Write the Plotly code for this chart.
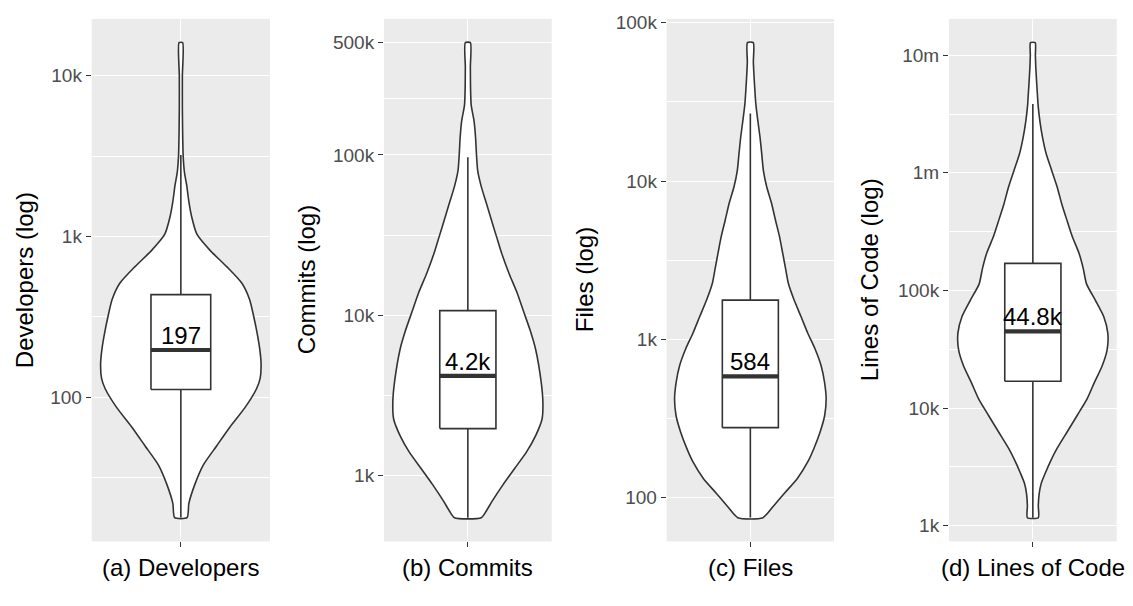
import numpy as np
import plotly.graph_objects as go

# ---------------- data ----------------
panel_titles = ["(a) Developers", "(b) Commits", "(c) Files", "(d) Lines of Code"]
y_titles = ["Developers (log)", "Commits (log)", "Files (log)", "Lines of Code (log)"]

# violin outlines: log10(value) from top to bottom, and half-width (fraction of panel half-width)
dev_log = [4.205, 4.0, 3.8, 3.65, 3.5, 3.4, 3.32, 3.217, 3.116, 3.014, 2.912, 2.811, 2.709, 2.607,
           2.506, 2.404, 2.3, 2.209, 2.12, 2.055, 1.936, 1.816, 1.698, 1.579, 1.459, 1.341, 1.252]
dev_width = [0.02, 0.017, 0.017, 0.02, 0.026, 0.04, 0.065, 0.09, 0.124, 0.18, 0.33, 0.517, 0.685, 0.772,
             0.816, 0.854, 0.885, 0.9, 0.89, 0.85, 0.719, 0.551, 0.401, 0.251, 0.157, 0.09, 0.07]

com_log = [5.70, 5.55, 5.42, 5.31, 5.211, 5.109, 5.0, 4.904, 4.801, 4.699, 4.596, 4.494, 4.392, 4.263,
           4.144, 4.024, 3.904, 3.789, 3.582, 3.457, 3.354, 3.252, 3.149, 3.047, 2.945, 2.842, 2.781, 2.739]
com_width = [0.03, 0.03, 0.032, 0.04, 0.074, 0.092, 0.103, 0.117, 0.161, 0.221, 0.28, 0.34, 0.40, 0.49,
             0.585, 0.665, 0.745, 0.808, 0.875, 0.895, 0.885, 0.81, 0.70, 0.56, 0.42, 0.29, 0.22, 0.16]

fil_log = [4.874, 4.75, 4.624, 4.483, 4.379, 4.275, 4.171, 4.066, 3.962, 3.858, 3.754, 3.65, 3.546, 3.45,
           3.354, 3.25, 3.146, 3.042, 2.938, 2.834, 2.729, 2.625, 2.521, 2.417, 2.313, 2.229, 2.12, 2.03,
           1.95, 1.874]
fil_width = [0.035, 0.036, 0.048, 0.066, 0.09, 0.116, 0.136, 0.156, 0.196, 0.254, 0.30, 0.348, 0.386, 0.42,
             0.454, 0.522, 0.604, 0.684, 0.775, 0.846, 0.887, 0.906, 0.889, 0.835, 0.761, 0.689, 0.56, 0.41,
             0.28, 0.15]

loc_log = [7.107, 7.0, 6.9, 6.772, 6.66, 6.58, 6.44, 6.30, 6.16, 6.02, 5.88, 5.74, 5.60, 5.46, 5.32, 5.19,
           5.056, 4.916, 4.777, 4.637, 4.497, 4.358, 4.218, 4.078, 3.939, 3.799, 3.659, 3.547, 3.45, 3.36,
           3.27, 3.17, 3.068]
loc_width = [0.028, 0.03, 0.035, 0.045, 0.055, 0.062, 0.084, 0.116, 0.16, 0.225, 0.29, 0.343, 0.405, 0.469,
             0.549, 0.60, 0.64, 0.746, 0.846, 0.894, 0.886, 0.826, 0.734, 0.647, 0.53, 0.41, 0.29, 0.21,
             0.15, 0.10, 0.075, 0.065, 0.065]

violin_logs = [dev_log, com_log, fil_log, loc_log]
violin_widths = [dev_width, com_width, fil_width, loc_width]

# box statistics
q1 = [112, 1970, 277, 16900]
median = [197, 4200, 584, 44800]
q3 = [435, 10700, 1770, 170000]
whisker_low = [17.9, 548, 75, 1170]
whisker_high = [3214, 96800, 26700, 3850000]
median_labels = ["197", "4.2k", "584", "44.8k"]

tick_vals = [[100, 1000, 10000],
             [1000, 10000, 100000, 500000],
             [100, 1000, 10000, 100000],
             [1000, 10000, 100000, 1000000, 10000000]]
tick_text = [["100", "1k", "10k"],
             ["1k", "10k", "100k", "500k"],
             ["100", "1k", "10k", "100k"],
             ["1k", "10k", "100k", "1m", "10m"]]

# ---------------- style / layout ----------------
W, H = 1133, 606
FONT = "Liberation Sans, Arial, Helvetica, sans-serif"
LINE = "#333333"
panel_px = [(91.7, 270.0), (384.0, 551.7), (666.7, 834.0), (949.0, 1116.7)]
ytitle_px = [24, 306, 584, 869]
top_px, bot_px = 12.0, 540.7
xtitle_top_px = 551
box_half = 0.335
LW = 1.6

fig = go.Figure()
layout = dict(width=W, height=H, margin=dict(l=0, r=0, t=0, b=0),
              paper_bgcolor="white", plot_bgcolor="#EBEBEB", showlegend=False,
              font=dict(family=FONT), annotations=[])

ydom = [1 - bot_px / H, 1 - top_px / H]

for i in range(4):
    sx = "" if i == 0 else str(i + 1)
    xa, ya = "x" + sx, "y" + sx
    logs = np.array(violin_logs[i])
    hw = np.array(violin_widths[i])
    vals = 10 ** logs

    # violin outline
    xs = np.concatenate([hw, -hw[::-1], hw[:1]])
    ys = np.concatenate([vals, vals[::-1], vals[:1]])
    fig.add_trace(go.Scatter(x=xs, y=ys, mode="lines", fill="toself", fillcolor="white",
                             line=dict(color=LINE, width=LW, shape="spline", smoothing=0.6),
                             xaxis=xa, yaxis=ya, hoverinfo="skip"))
    # whiskers
    fig.add_trace(go.Scatter(x=[0, 0, None, 0, 0],
                             y=[q3[i], whisker_high[i], None, q1[i], whisker_low[i]],
                             mode="lines", line=dict(color=LINE, width=LW),
                             xaxis=xa, yaxis=ya, hoverinfo="skip"))
    # box
    fig.add_trace(go.Scatter(x=[-box_half, box_half, box_half, -box_half, -box_half],
                             y=[q1[i], q1[i], q3[i], q3[i], q1[i]],
                             mode="lines", fill="toself", fillcolor="white",
                             line=dict(color=LINE, width=LW),
                             xaxis=xa, yaxis=ya, hoverinfo="skip"))
    # thick median line
    fig.add_trace(go.Scatter(x=[-box_half, box_half], y=[median[i], median[i]], mode="lines",
                             line=dict(color=LINE, width=4.2), xaxis=xa, yaxis=ya, hoverinfo="skip"))

    # y range: data range expanded by 5%
    lo, hi = logs.min(), logs.max()
    span = hi - lo
    yr = [lo - 0.05 * span, hi + 0.05 * span]
    tl = np.log10(tick_vals[i])
    minor = list((tl[:-1] + tl[1:]) / 2) + [tl[0] - 0.5, tl[-1] + 0.5]
    minor = [10 ** m for m in minor if yr[0] < m < yr[1]]

    x0, x1 = panel_px[i]
    layout["xaxis" + sx] = dict(domain=[x0 / W, x1 / W], anchor=ya, range=[-1, 1],
                                tickvals=[0], ticktext=[""], showticklabels=False,
                                ticks="outside", ticklen=5, tickwidth=1.3, tickcolor=LINE,
                                showgrid=True, gridcolor="white", gridwidth=1.3,
                                zeroline=False, showline=False, fixedrange=True)
    layout["yaxis" + sx] = dict(domain=ydom, anchor=xa, type="log", range=yr,
                                tickvals=tick_vals[i], ticktext=tick_text[i],
                                ticks="outside", ticklen=5, tickwidth=1.3, tickcolor=LINE,
                                tickfont=dict(size=19, color="#4D4D4D", family=FONT),
                                showgrid=True, gridcolor="white", gridwidth=1.3,
                                minor=dict(tickvals=minor, showgrid=True, gridcolor="white",
                                           gridwidth=0.7, ticks=""),
                                zeroline=False, showline=False, fixedrange=True)

    # median label
    layout["annotations"].append(dict(x=0, y=np.log10(median[i]), xref=xa, yref=ya,
                                      text=median_labels[i], showarrow=False, yanchor="bottom",
                                      yshift=-1, font=dict(size=24, color="black", family=FONT)))
    # x title
    layout["annotations"].append(dict(x=(x0 + x1) / 2 / W, y=1 - xtitle_top_px / H,
                                      xref="paper", yref="paper",
                                      text=panel_titles[i], showarrow=False, yanchor="top",
                                      xanchor="center", font=dict(size=24, color="black", family=FONT)))
    # y title
    layout["annotations"].append(dict(x=ytitle_px[i] / W, y=(ydom[0] + ydom[1]) / 2,
                                      xref="paper", yref="paper", text=y_titles[i], showarrow=False,
                                      textangle=-90, xanchor="center", yanchor="middle",
                                      font=dict(size=24, color="black", family=FONT)))

fig.update_layout(**layout)
fig.write_html("out.html", config={"displayModeBar": False},
               post_script="document.body.style.margin='0px';")
